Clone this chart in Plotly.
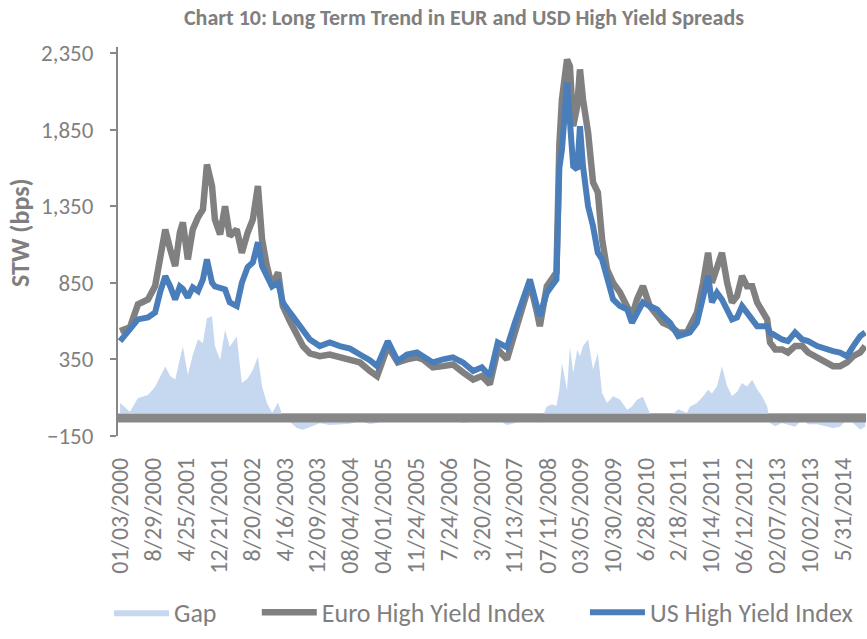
import plotly.graph_objects as go
import numpy as np

dates = ["2000-01-03","2000-03-15","2000-05-12","2000-07-24","2000-09-14","2000-10-20","2000-11-27","2001-01-02","2001-02-07","2001-03-13",
"2001-04-04","2001-05-10","2001-06-15","2001-07-23","2001-08-28","2001-09-26","2001-11-02","2001-11-23","2001-12-31","2002-02-05",
"2002-03-11","2002-05-01","2002-06-07","2002-07-19","2002-08-26","2002-10-02","2002-11-01","2002-12-06","2003-01-13","2003-02-26",
"2003-04-01","2003-05-22","2003-07-11","2003-08-25","2003-10-15","2003-12-26","2004-03-08","2004-05-20","2004-08-02","2004-10-13",
"2004-12-24","2005-02-15","2005-05-04","2005-07-15","2005-09-20","2005-12-02","2006-01-16","2006-03-28","2006-06-09","2006-08-21",
"2006-11-02","2007-01-15","2007-03-19","2007-05-16","2007-07-13","2007-09-18","2007-11-15","2008-01-14","2008-03-03","2008-04-23",
"2008-05-14","2008-07-04","2008-08-11","2008-09-12","2008-10-03","2008-10-22","2008-11-28","2008-12-19","2009-01-12","2009-02-10",
"2009-03-02","2009-03-24","2009-04-30","2009-06-05","2009-07-10","2009-08-10","2009-09-15","2009-10-29","2009-12-18","2010-02-09",
"2010-03-15","2010-04-21","2010-06-03","2010-07-23","2010-09-14","2010-10-27","2010-12-17","2011-02-15","2011-04-19","2011-05-10",
"2011-07-01","2011-08-15","2011-09-20","2011-10-18","2011-11-24","2011-12-30","2012-02-06","2012-03-12","2012-04-18","2012-05-24",
"2012-06-29","2012-08-06","2012-09-11","2012-10-17","2012-11-23","2012-12-14","2013-01-21","2013-03-11","2013-04-23","2013-06-14",
"2013-08-05","2013-09-17","2013-11-22","2014-01-20","2014-03-17","2014-05-07","2014-06-27","2014-08-11","2014-10-01","2014-11-06"]

euro_hy = [535,559,709,741,828,1024,1198,1068,959,1177,
1244,1003,1198,1277,1329,1622,1481,1263,1166,1350,
1155,1198,1046,1177,1263,1481,1133,959,828,918,
698,600,502,437,390,371,382,363,350,330,
274,241,437,330,350,363,350,298,306,317,
265,219,241,187,415,350,526,698,850,657,
567,828,885,918,1750,2047,2308,2264,1872,2003,
2243,2047,1831,1505,1440,1133,937,850,787,698,
632,741,828,698,632,589,567,526,526,567,
655,850,1046,850,959,1046,850,722,763,894,
828,828,722,676,611,460,415,415,395,437,
437,395,363,330,306,306,330,371,395,437]

us_hy = [469,550,611,624,657,787,894,826,741,826,
810,754,820,796,872,1003,850,826,820,807,
722,698,850,951,983,1114,959,894,826,850,
722,657,600,546,480,437,460,437,420,382,
345,306,469,339,382,395,371,330,350,363,
330,274,298,241,460,428,591,741,872,696,
632,785,828,872,1600,1719,2157,1831,1611,1590,
1872,1611,1350,1220,1046,1003,872,741,698,676,
589,655,722,698,676,632,589,502,526,526,
589,741,894,722,785,741,676,611,624,698,
655,611,567,567,567,526,502,480,469,526,
480,469,437,415,404,395,371,437,502,526]

gap = (np.array(euro_hy) - np.array(us_hy)).tolist()

tick_dates = ["2000-01-03","2000-08-29","2001-04-25","2001-12-21","2002-08-20","2003-04-16","2003-12-09","2004-08-04",
"2005-04-01","2005-11-24","2006-07-24","2007-03-20","2007-11-13","2008-07-11","2009-03-05","2009-10-30",
"2010-06-28","2011-02-18","2011-10-14","2012-06-12","2013-02-07","2013-10-02","2014-05-31"]
tick_text = ["01/03/2000","8/29/2000","4/25/2001","12/21/2001","8/20/2002","4/16/2003","12/09/2003","08/04/2004",
"04/01/2005","11/24/2005","7/24/2006","3/20/2007","11/13/2007","07/11/2008","03/05/2009","10/30/2009",
"6/28/2010","2/18/2011","10/14/2011","06/12/2012","02/07/2013","10/02/2013","5/31/2014"]

FONT = "Carlito, Lato, sans-serif"
TXT = "#7f7f7f"
PAD = "\u00a0" * 6

fig = go.Figure()
fig.add_trace(go.Scatter(x=dates, y=gap, name="Gap" + PAD, mode="lines", fill="tozeroy",
                         line=dict(width=0, color="#c6d8f0"), fillcolor="#c6d8f0"))
fig.add_trace(go.Scatter(x=dates, y=euro_hy, name="Euro High Yield Index" + PAD, mode="lines",
                         line=dict(width=6.5, color="#808080")))
fig.add_trace(go.Scatter(x=dates, y=us_hy, name="US High Yield Index", mode="lines",
                         line=dict(width=6, color="#4a7ebb")))

# thick horizontal axis line near zero
fig.add_shape(type="line", xref="paper", x0=0, x1=1, yref="y", y0=-32, y1=-32,
              line=dict(color="#878787", width=9), layer="above")

fig.update_layout(
    width=867, height=639,
    margin=dict(l=118, r=1, t=47, b=203),
    paper_bgcolor="white", plot_bgcolor="white",
    font=dict(family=FONT, color=TXT, size=23),
    title=dict(text="<b>Chart 10: Long Term Trend in EUR and USD High Yield Spreads</b>",
               x=464/867, xanchor="center", y=1-17/639, yanchor="middle",
               font=dict(size=22, color=TXT, family=FONT)),
    showlegend=True,
    legend=dict(orientation="h", x=(109-118)/748, xanchor="left", y=-0.393, yanchor="top",
                font=dict(size=26, color=TXT, family=FONT), itemwidth=55,
                traceorder="normal"),
)
fig.update_xaxes(type="date", range=["1999-12-19", "2014-11-12"], tickmode="array",
                 tickvals=tick_dates, ticktext=tick_text, tickangle=-90,
                 showgrid=False, zeroline=False, showline=False, ticks="",
                 tickfont=dict(size=24, color=TXT, family=FONT), ticklabelstandoff=16)
fig.update_yaxes(range=[-150, 2389], tick0=-150, dtick=500, tickformat=",",
                 showgrid=False, zeroline=False, showline=True, linecolor="#878787", linewidth=2,
                 ticks="outside", ticklen=6, tickwidth=2, tickcolor="#878787",
                 tickfont=dict(size=23, color=TXT, family=FONT), ticklabelstandoff=12)
fig.add_annotation(text="<b>STW (bps)</b>", textangle=-90, xref="paper", yref="paper",
                   x=(20-118)/748, y=(436-233)/389, xanchor="center", yanchor="middle",
                   showarrow=False, font=dict(size=26, color=TXT, family=FONT))

fig.write_html("out.html")
